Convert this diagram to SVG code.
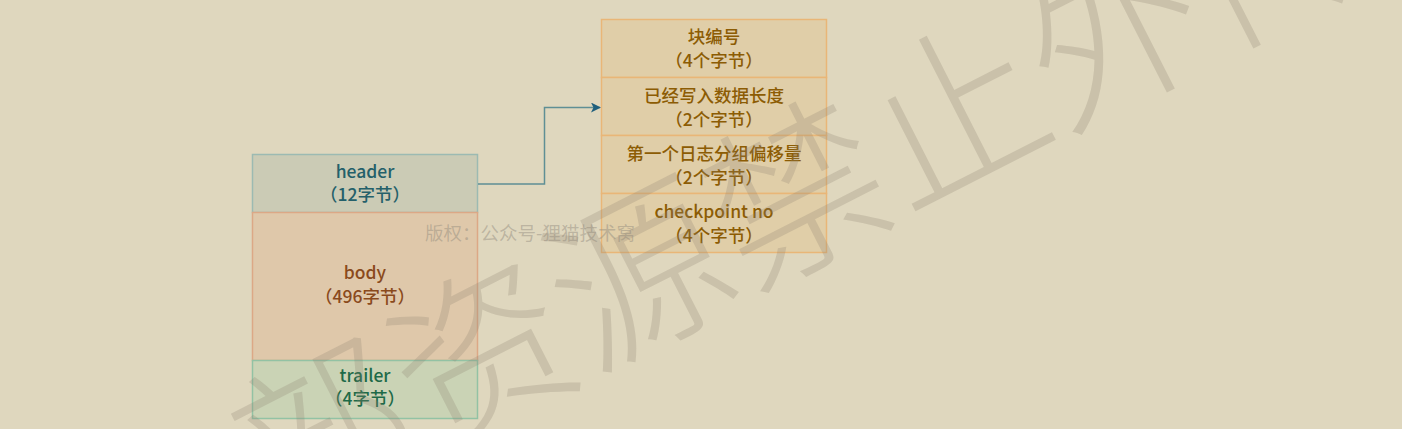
<svg xmlns="http://www.w3.org/2000/svg" width="1402" height="429" viewBox="0 0 1402 429">
<style>
.t{font-family:"Noto Sans CJK SC","Noto Sans",sans-serif;font-size:17.5px;font-weight:500;text-anchor:middle}
.hdr rect{fill:#cbcbb5;stroke:#9cbab2;stroke-width:1.5}
.hdr text{fill:#24606a}
.bdy rect{fill:#dfc8aa;stroke:#dca886;stroke-width:1.5}
.bdy text{fill:#8a4a1c}
.trl rect{fill:#cad3b5;stroke:#92c2a4;stroke-width:1.5}
.trl text{fill:#1e6a48}
.r rect{fill:#e0cea8;stroke:#e9b677;stroke-width:1.5}
.r text{fill:#8c5c04}
.conn{fill:none;stroke:#5f8f95;stroke-width:1.5}
</style>
<defs>
<marker id="ah" viewBox="0 0 10 10" refX="9" refY="5" markerWidth="10" markerHeight="10" markerUnits="userSpaceOnUse" orient="auto">
<path d="M0,0 L10,5 L0,10 L2.5,5 Z" fill="#1f5f7d"/>
</marker>
</defs>
<rect x="0" y="0" width="1402" height="429" fill="#dfd7be"/>
<g id="header" class="hdr">
<rect x="252.5" y="154.5" width="225" height="58"/>
<text class="t" x="365" y="178">header</text>
<text class="t" x="365" y="201">（12字节）</text>
</g>
<g id="body" class="bdy">
<rect x="252.5" y="212.5" width="225" height="148"/>
<text class="t" x="365" y="279">body</text>
<text class="t" x="365" y="303">（496字节）</text>
</g>
<g id="trailer" class="trl">
<rect x="252.5" y="360.5" width="225" height="58"/>
<text class="t" x="365" y="382">trailer</text>
<text class="t" x="365" y="405">（4字节）</text>
</g>
<g id="block-no" class="r">
<rect x="601.5" y="19.5" width="225" height="58"/>
<text class="t" x="714" y="43">块编号</text>
<text class="t" x="714" y="67">（4个字节）</text>
</g>
<g id="data-len" class="r">
<rect x="601.5" y="77.5" width="225" height="58"/>
<text class="t" x="714" y="102">已经写入数据长度</text>
<text class="t" x="714" y="126">（2个字节）</text>
</g>
<g id="first-offset" class="r">
<rect x="601.5" y="135.5" width="225" height="58"/>
<text class="t" x="714" y="160">第一个日志分组偏移量</text>
<text class="t" x="714" y="184">（2个字节）</text>
</g>
<g id="checkpoint" class="r">
<rect x="601.5" y="193.5" width="225" height="59"/>
<text class="t" x="714" y="218">checkpoint no</text>
<text class="t" x="714" y="242">（4个字节）</text>
</g>
<g id="connectors">
<path class="conn" d="M478,184 H544.5 V107.5 H600" marker-end="url(#ah)"/>
</g>
<text x="425" y="240" font-family="Noto Sans CJK SC,sans-serif" font-size="18.5" fill="#8f897c" fill-opacity="0.45">版权：公众号-狸猫技术窝</text>
<g transform="translate(953,112) rotate(-27)">
<text x="-796" y="67" font-family="Noto Sans CJK SC,sans-serif" font-size="177" font-weight="300" fill="#8a8070" fill-opacity="0.25">部资源禁止外传</text>
</g>
</svg>
